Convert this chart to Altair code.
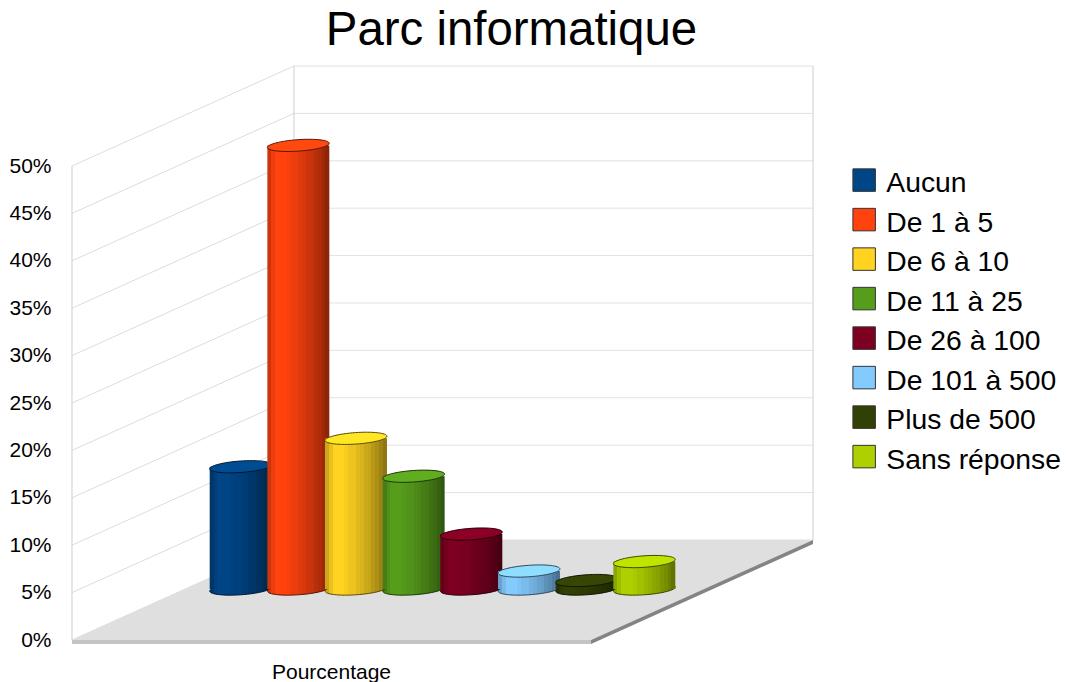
import altair as alt
import pandas as pd

categories = ["Aucun", "De 1 à 5", "De 6 à 10", "De 11 à 25", "De 26 à 100", "De 101 à 500", "Plus de 500", "Sans réponse"]
values = [12.9, 46.8, 15.9, 11.9, 5.8, 1.9, 0.9, 2.9]
colors = ["#004586", "#ff420e", "#ffd320", "#579d1c", "#7e0021", "#83caff", "#314004", "#aecf00"]
ticks = list(range(0, 55, 5))

FONT = "Liberation Sans"
SLOTS = 9.0        # floor width in category slots
DEPTH_X = 3.85     # receding depth, in slots
DEPTH_Y = 10.55    # receding depth, in percentage points
BAR = 62 / 57.7    # cylinder width, in slots
SHAPE = "M-.9976,.07 A1,.185 -4 1 1 .9976,-.07 A1,.185 -4 1 1 -.9976,.07Z"
SHADES = [.80, .92, 1, 1, 1, .97, .93, .93, .88, .85, .80, .78, .72, .68, .62, .56]

xs = alt.Scale(domain=[0, SLOTS + DEPTH_X], nice=False, zero=False)
ys = alt.Scale(domain=[0, 50 + DEPTH_Y], nice=False, zero=False)

x_axis = alt.Axis(title="Pourcentage", labels=False, ticks=False, domain=False, grid=False,
                  titleFont=FONT, titleFontSize=21, titleFontWeight="normal", titleColor="#000000",
                  titleX=259, titleY=38, titleBaseline="alphabetic", titleAlign="center")
y_axis = alt.Axis(title=None, values=ticks, labelExpr="datum.value + '%'", ticks=False, domain=False,
                  grid=False, labelFont=FONT, labelFontSize=21, labelColor="#000000", labelPadding=21)


def X(field="x"):
    return alt.X(f"{field}:Q", scale=xs, axis=x_axis)


def Y(field="y"):
    return alt.Y(f"{field}:Q", scale=ys, axis=y_axis)


def shade(c, f):
    r, g, b = (int(c[i:i + 2], 16) for i in (1, 3, 5))
    return "#%02x%02x%02x" % tuple(min(255, int(round(v * f))) for v in (r, g, b))


def gradient(c):
    stops = []
    n = len(SHADES)
    for i, f in enumerate(SHADES):
        stops.append(alt.GradientStop(offset=i / n, color=shade(c, f)))
        stops.append(alt.GradientStop(offset=(i + 1) / n, color=shade(c, f)))
    return alt.LinearGradient(gradient="linear", stops=stops, x1=0, x2=1, y1=0, y2=0)


layers = []

# left wall and back wall
left_wall = pd.DataFrame({"x": 0.0, "x2": DEPTH_X, "y": ticks, "y2": [t + DEPTH_Y for t in ticks]})
layers.append(
    alt.Chart(left_wall).mark_rule(color="#dcdcdc", strokeWidth=1).encode(x=X(), x2="x2:Q", y=Y(), y2="y2:Q")
)
back_wall = pd.DataFrame({"x": DEPTH_X, "x2": SLOTS + DEPTH_X, "y": [t + DEPTH_Y for t in ticks]})
layers.append(
    alt.Chart(back_wall).mark_rule(color="#e2e2e2", strokeWidth=1).encode(x=X(), x2="x2:Q", y=Y())
)
edges = pd.DataFrame({
    "x": [0.0, DEPTH_X, SLOTS + DEPTH_X],
    "y": [0.0, DEPTH_Y, DEPTH_Y],
    "y2": [50.0, 50 + DEPTH_Y, 50 + DEPTH_Y],
})
layers.append(alt.Chart(edges).mark_rule(color="#cfcfcf", strokeWidth=1).encode(x=X(), y=Y(), y2="y2:Q"))

# floor
floor = pd.DataFrame({
    "x": [0.0, DEPTH_X, SLOTS, SLOTS + DEPTH_X],
    "y": [0.0, DEPTH_Y, DEPTH_Y, DEPTH_Y],
    "y2": [0.0, 0.0, 0.0, DEPTH_Y],
})
layers.append(alt.Chart(floor).mark_area(color="#dfdfdf").encode(x=X(), y=Y(), y2="y2:Q"))
front = pd.DataFrame({"x": [0.0, SLOTS], "y": [0.0, 0.0], "y2": [-0.42, -0.42]})
layers.append(alt.Chart(front).mark_area(color="#c4c4c4").encode(x=X(), y=Y(), y2="y2:Q"))
side = pd.DataFrame({"x": [SLOTS, SLOTS + DEPTH_X], "y": [0.0, DEPTH_Y], "y2": [-0.42, DEPTH_Y - 0.42]})
layers.append(alt.Chart(side).mark_area(color="#848484").encode(x=X(), y=Y(), y2="y2:Q"))

# legend carrier, fully hidden under the cylinders
base = DEPTH_Y / 2 + 0.1
centres = [DEPTH_X / 2 + 1 + i for i in range(len(categories))]
table = pd.DataFrame({"cat": categories, "x": centres, "y": base})
layers.append(
    alt.Chart(table).mark_point(filled=True, shape=SHAPE, size=3000, opacity=1).encode(
        x=X(), y=Y(),
        color=alt.Color("cat:N", scale=alt.Scale(domain=categories, range=colors), sort=categories,
                        legend=alt.Legend(title=None, orient="none", legendX=778, legendY=104,
                                          symbolType="M-1,-1.36H1V.64H-1Z", symbolSize=506, symbolOpacity=1,
                                          symbolStrokeColor="#333333", symbolStrokeWidth=1,
                                          labelFont=FONT, labelFontSize=28.3, labelColor="#000000",
                                          labelOffset=8, rowPadding=7.5, labelLimit=300)),
    )
)

# cylinders, left to right so that each one overlaps the previous one
for i, c in enumerate(colors):
    row = pd.DataFrame({
        "x": [centres[i]], "x0": [centres[i] - BAR / 2], "x1": [centres[i] + BAR / 2],
        "y": [base], "top": [base + values[i]],
    })
    chart = alt.Chart(row)
    layers.append(
        chart.mark_point(filled=True, shape=SHAPE, size=3844, fill=gradient(c), stroke=shade(c, .35),
                         strokeWidth=1, opacity=1).encode(x=X(), y=Y())
    )
    layers.append(chart.mark_rect(fill=gradient(c)).encode(x=X("x0"), x2="x1:Q", y=Y(), y2="top:Q"))
    layers.append(
        chart.mark_point(filled=True, shape=SHAPE, size=3844, fill=shade(c, 1.1), stroke=shade(c, .35),
                         strokeWidth=1, opacity=1).encode(x=X(), y=Y("top"))
    )

chart = (
    alt.layer(*layers)
    .properties(
        width=741, height=574,
        padding={"left": 64, "top": 58, "right": 248, "bottom": 42},
        autosize=alt.AutoSizeParams(type="none"),
        title=alt.TitleParams("Parc informatique", font=FONT, fontSize=47.4, fontWeight="normal", color="#000000",
                              anchor="middle", frame="group", dx=69, dy=41, offset=14, baseline="alphabetic"),
    )
    .resolve_scale(x="shared", y="shared")
    .configure_view(stroke=None)
)
chart.save("out.html", embed_options={"renderer": "svg", "actions": False})
